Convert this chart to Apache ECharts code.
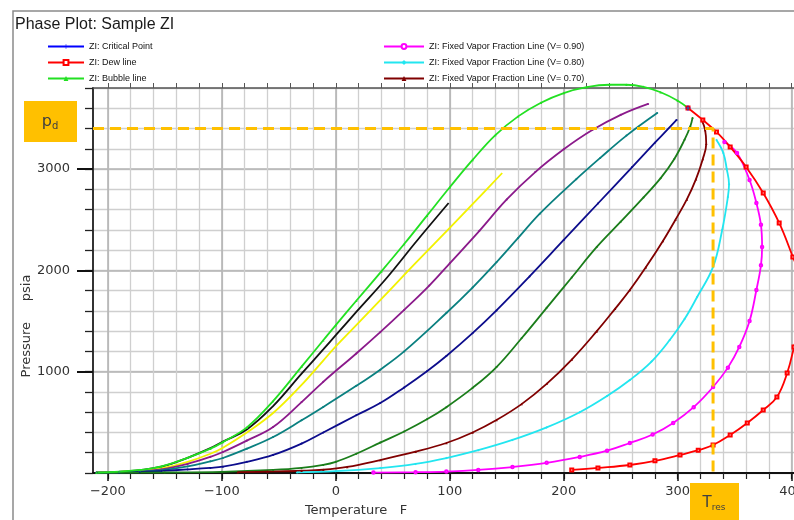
<!DOCTYPE html>
<html>
<head>
<meta charset="utf-8">
<title>Phase Plot: Sample ZI</title>
<script src="https://cdn.jsdelivr.net/npm/echarts@6/dist/echarts.min.js"></script>
<style>
  html, body { margin: 0; padding: 0; background: #ffffff; }
  #chart { width: 794px; height: 520px; }
</style>
</head>
<body>
<div id="chart"></div>
<script>
// Axis ranges and ticks (temperature in F, pressure in psia)
const xMin = -213, xMax = 402;
const yMin = 0, yMax = 3800;
const xMajorTicks = [-200, -100, 0, 100, 200, 300, 400];
const xMinorStep = 20;
const yMajorTicks = [1000, 2000, 3000];
const yMinorStep = 200;

// Reservoir conditions marked on the plot
const pDew = 3400;
const tRes = 331;

// Phase envelope: [temperature F, pressure psia]
const bubbleLine = [[-210,5],[-190,14],[-172,30],[-153,65],[-130,150],[-110,240],[-99,305],[-78,450],[-55,710],[-30,1050],[-11,1310],[0,1460],[18,1700],[40,1990],[60,2260],[80,2540],[100,2820],[120,3090],[140,3335],[160,3520],[180,3655],[200,3750],[220,3808],[240,3832],[255,3832],[270,3812],[285,3758],[300,3675],[309,3603]];
const dewLine = [[207,30],[230,50],[258,79],[280,120],[302,178],[318,225],[331,276],[346,375],[361,494],[375,622],[387,750],[396,987],[402,1244],[407,1500],[409,1750],[407,1950],[401,2132],[389,2468],[375,2764],[360,3021],[346,3218],[334,3366],[322,3485],[309,3603]];
const criticalPoint = [[309,3603]];

// Fixed vapour fraction lines
const vf90 = [[33,4],[70,8],[97,14],[125,30],[155,59],[185,100],[214,158],[238,220],[258,296],[278,380],[296,494],[314,650],[331,849],[344,1040],[354,1244],[363,1500],[369,1806],[373,2050],[374,2231],[373,2450],[369,2665],[363,2892],[352,3159],[341,3268]];
const vf80 = [[-34,6],[0,18],[39,49],[70,90],[97,148],[125,225],[155,326],[185,450],[214,600],[238,760],[258,918],[277,1100],[293,1313],[306,1520],[317,1737],[331,2034],[339,2399],[344,2725],[345,2850],[343,3000],[340,3159],[334,3287]];
const vf70 = [[-86,8],[-60,14],[-30,22],[-11,32],[10,60],[39,128],[70,210],[97,296],[120,400],[141,523],[163,680],[185,880],[207,1120],[229,1400],[245,1620],[258,1806],[272,2030],[287,2290],[298,2500],[308,2700],[316,2900],[322,3100],[325,3250],[324,3386],[321,3485]];

// Inner quality lines (unlabelled)
const darkGreenLine = [[-210,1],[-150,5],[-100,12],[-55,30],[-30,50],[-11,80],[0,110],[18,190],[39,300],[60,410],[80,530],[97,650],[120,840],[141,1046],[163,1330],[185,1630],[207,1930],[229,2231],[250,2480],[270,2720],[285,2910],[297,3100],[306,3290],[311,3420],[313,3505]];
const navyLine = [[-210,2],[-190,5],[-172,10],[-153,20],[-130,35],[-110,50],[-99,62],[-78,110],[-55,178],[-30,290],[-11,400],[18,570],[39,690],[60,845],[80,1005],[97,1155],[120,1380],[141,1605],[170,1940],[200,2300],[230,2660],[260,3020],[280,3260],[299,3485]];
const tealLine = [[-210,3],[-190,7],[-172,14],[-153,28],[-130,65],[-110,115],[-99,148],[-78,240],[-55,355],[-30,520],[-11,652],[18,860],[39,1020],[60,1200],[97,1579],[120,1830],[141,2080],[160,2320],[179,2560],[211,2900],[232,3110],[255,3330],[282,3553]];
const purpleLine = [[-210,4],[-190,9],[-172,18],[-153,35],[-130,90],[-110,160],[-99,207],[-78,320],[-55,454],[-30,700],[-11,900],[18,1180],[39,1390],[60,1610],[82,1850],[100,2070],[126,2390],[150,2700],[175,2970],[200,3195],[225,3385],[250,3535],[274,3643]];
const yellowLine = [[-210,4],[-190,10],[-172,22],[-153,45],[-130,110],[-110,190],[-99,250],[-78,400],[-55,592],[-30,870],[-11,1110],[0,1250],[18,1460],[47,1800],[68,2050],[100,2420],[124,2700],[146,2961]];
const blackLine = [[-210,5],[-190,12],[-172,28],[-153,62],[-130,150],[-110,245],[-99,310],[-78,430],[-55,660],[-30,980],[-11,1220],[0,1360],[18,1590],[45,1930],[71,2290],[99,2665]];

function steps(from, to, step) {
  const out = [];
  for (let v = from; v <= to; v += step) out.push(v);
  return out;
}
const xMinorTicks = steps(-200, 400, xMinorStep);

const AXIS_FONT = 'DejaVu Sans';
const LEGEND_FONT = 'Liberation Sans';
const ORANGE = '#FFC000';

function curve(name, data, color, extra) {
  return Object.assign({
    type: 'line',
    name: name,
    data: data,
    xAxisIndex: 0,
    yAxisIndex: 0,
    smooth: 0.4,
    symbol: 'circle',
    symbolSize: 2,
    showSymbol: true,
    showAllSymbol: true,
    lineStyle: { color: color, width: 1.8 },
    itemStyle: { color: color, borderWidth: 1 },
    emphasis: { disabled: true },
    silent: true,
    animation: false,
    z: 3
  }, extra || {});
}

const plusPath = 'path://M0,5L10,5L10,6L0,6ZM4.5,0L5.5,0L5.5,11L4.5,11Z';

const chart = echarts.init(document.getElementById('chart'), null, { renderer: 'canvas' });

const legendText = { fontFamily: LEGEND_FONT, fontSize: 9, color: '#111' };

chart.setOption({
  backgroundColor: '#ffffff',
  animation: false,
  grid: { left: 93, right: 0, top: 88, bottom: 47, outerBoundsMode: 'none', containLabel: false },
  xAxis: [
    {
      type: 'value', min: xMin, max: xMax, position: 'bottom',
      axisLine: { show: true, onZero: false, lineStyle: { color: '#111', width: 2 } },
      axisTick: { show: true, length: 6, customValues: xMinorTicks, lineStyle: { color: '#222', width: 1.2 } },
      axisLabel: { show: false },
      splitLine: { show: true, lineStyle: { color: '#cfcfcf', width: 1.3 } }
    },
    {
      type: 'value', min: xMin, max: xMax, position: 'bottom',
      axisLine: { show: false, onZero: false },
      axisTick: { show: true, length: 8, customValues: xMajorTicks, lineStyle: { color: '#111', width: 1.5 } },
      axisLabel: {
        show: true, customValues: xMajorTicks, margin: 12,
        fontFamily: AXIS_FONT, fontSize: 13, color: '#333',
        formatter: v => String(v).replace('-', '\u2212')
      },
      splitLine: { show: true, lineStyle: { color: '#b4b4b4', width: 1.6 } }
    },
    {
      type: 'value', min: xMin, max: xMax, position: 'top',
      axisLine: { show: true, onZero: false, lineStyle: { color: '#555', width: 1.5 } },
      axisTick: { show: true, length: 5, customValues: xMinorTicks, lineStyle: { color: '#555', width: 1 } },
      axisLabel: { show: false },
      splitLine: { show: false }
    }
  ],
  yAxis: [
    {
      type: 'value', min: yMin, max: yMax, interval: yMinorStep, position: 'left',
      axisLine: { show: true, onZero: false, lineStyle: { color: '#333', width: 2 } },
      axisTick: { show: true, length: 8, lineStyle: { color: '#222', width: 1.3 } },
      axisLabel: { show: false },
      splitLine: { show: true, lineStyle: { color: '#cfcfcf', width: 1.3 } }
    },
    {
      type: 'value', min: yMin, max: yMax, position: 'left',
      axisLine: { show: false, onZero: false },
      axisTick: { show: true, length: 16, customValues: yMajorTicks, lineStyle: { color: '#111', width: 2 } },
      axisLabel: {
        show: true, customValues: yMajorTicks, margin: 23,
        fontFamily: AXIS_FONT, fontSize: 13, color: '#333',
        formatter: v => String(v)
      },
      splitLine: { show: true, lineStyle: { color: '#b4b4b4', width: 1.6 } }
    }
  ],
  legend: [
    {
      data: ['ZI: Critical Point', 'ZI: Dew line', 'ZI: Bubble line'],
      orient: 'vertical', left: 47, top: 42, padding: 0,
      itemWidth: 36, itemHeight: 6, itemGap: 7,
      selectedMode: false,
      textStyle: legendText
    },
    {
      data: ['ZI: Fixed Vapor Fraction Line (V= 0.90)', 'ZI: Fixed Vapor Fraction Line (V= 0.80)', 'ZI: Fixed Vapor Fraction Line (V= 0.70)'],
      orient: 'vertical', left: 383, top: 42, padding: 0,
      itemWidth: 40, itemHeight: 6, itemGap: 7,
      selectedMode: false,
      textStyle: legendText
    }
  ],
  graphic: [
    { type: 'rect', silent: true, z: 0, shape: { x: 13, y: 11, width: 800, height: 520 },
      style: { fill: 'none', stroke: '#8a8a8a', lineWidth: 1.5 } },
    { type: 'text', silent: true, left: 15, top: 17,
      style: { text: 'Phase Plot: Sample ZI', fontFamily: LEGEND_FONT, fontSize: 16, fill: '#1a1a1a' } },
    { type: 'text', silent: true, x: 27, y: 326, rotation: Math.PI / 2,
      style: { text: 'Pressure     psia', fontFamily: AXIS_FONT, fontSize: 13, fill: '#333', align: 'center', verticalAlign: 'middle' } },
    { type: 'text', silent: true, x: 356, y: 511,
      style: { text: 'Temperature   F', fontFamily: AXIS_FONT, fontSize: 13, fill: '#333', align: 'center', verticalAlign: 'middle' } },
    { type: 'rect', silent: true, z: 20, shape: { x: 24, y: 101, width: 53, height: 41 }, style: { fill: ORANGE } },
    { type: 'text', silent: true, z: 21, x: 50, y: 122,
      style: { text: '{a|p}{b|d}', align: 'center', verticalAlign: 'middle',
        rich: { a: { fontFamily: AXIS_FONT, fontSize: 16, fill: '#404040' },
                b: { fontFamily: AXIS_FONT, fontSize: 10, fill: '#404040', padding: [9, 0, 0, 0] } } } },
    { type: 'rect', silent: true, z: 20, shape: { x: 690, y: 483, width: 49, height: 40 }, style: { fill: ORANGE } },
    { type: 'text', silent: true, z: 21, x: 714, y: 503,
      style: { text: '{a|T}{b|res}', align: 'center', verticalAlign: 'middle',
        rich: { a: { fontFamily: AXIS_FONT, fontSize: 15, fill: '#404040' },
                b: { fontFamily: AXIS_FONT, fontSize: 9, fill: '#404040', padding: [9, 0, 0, 0] } } } }
  ],
  series: [
    curve('q-black', blackLine, '#111111', { symbol: 'none' }),
    curve('q-yellow', yellowLine, '#f2f200', { symbol: 'none' }),
    curve('q-purple', purpleLine, '#8b1a8b'),
    curve('q-teal', tealLine, '#0a8080'),
    curve('q-navy', navyLine, '#0c0c8c'),
    curve('q-darkgreen', darkGreenLine, '#1a7d1a'),
    curve('ZI: Fixed Vapor Fraction Line (V= 0.70)', vf70, '#800000', { symbol: 'triangle', symbolSize: 2.5 }),
    curve('ZI: Fixed Vapor Fraction Line (V= 0.80)', vf80, '#22e6f0', { symbol: 'diamond', symbolSize: 2.5 }),
    curve('ZI: Fixed Vapor Fraction Line (V= 0.90)', vf90, '#ff00ff', { symbol: 'emptyCircle', symbolSize: 2.5 }),
    curve('ZI: Dew line', dewLine, '#ff0000', { symbol: 'emptyRect', symbolSize: 3 }),
    curve('ZI: Bubble line', bubbleLine, '#22e022', { symbol: 'triangle', symbolSize: 2.5, clip: false }),
    curve('ZI: Critical Point', criticalPoint, '#0000ff', { symbol: plusPath, symbolSize: 6 }),
    {
      type: 'line', name: 'reservoir', xAxisIndex: 0, yAxisIndex: 0,
      data: [[xMin, pDew], [tRes, pDew], [tRes, yMin]],
      symbol: 'none', silent: true, animation: false, z: 10,
      lineStyle: { color: ORANGE, width: 3, type: [11, 6] }
    }
  ]
});
</script>
</body>
</html>
